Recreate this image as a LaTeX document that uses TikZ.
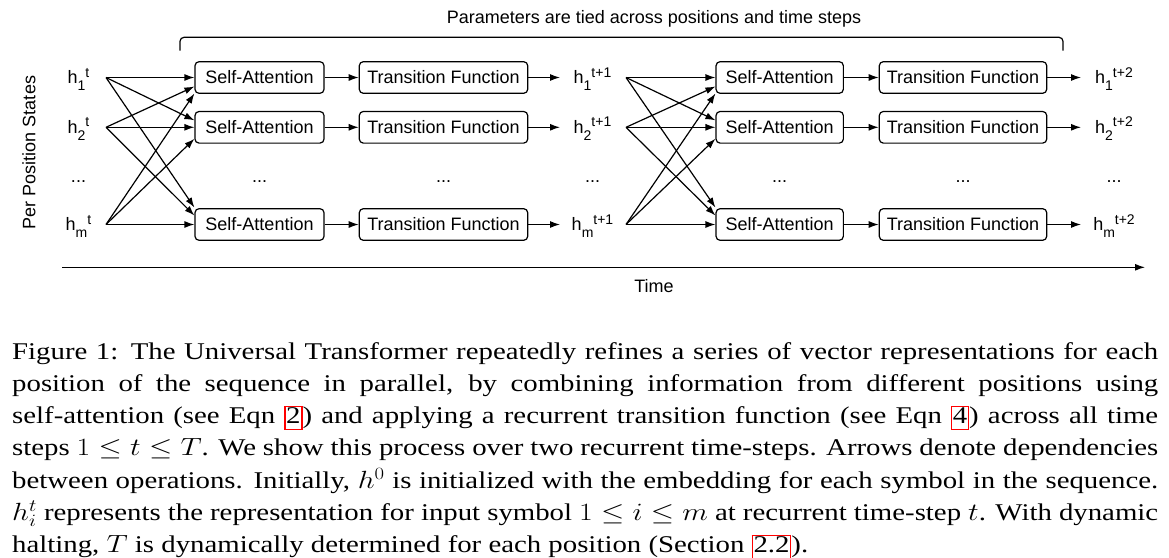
\documentclass[tikz,border=0pt]{standalone}
\usepackage{fontspec}
\usepackage{graphicx}
\setmainfont{Liberation Serif}
\newfontfamily\diagfont{Liberation Sans}
\usetikzlibrary{arrows.meta}

\definecolor{linkred}{rgb}{1,0,0}

% state label: h with index and step set side by side
\newcommand{\hlab}[2]{h\raisebox{-6.5pt}{\fontsize{14}{14}\selectfont #1}\raisebox{6.8pt}{\fontsize{14}{14}\selectfont #2}}
% red frame of a reference link
\newcommand{\eqlink}[1]{{\fboxsep=0.6pt\fboxrule=1pt\fcolorbox{linkred}{white}{\vphantom{Eqp}#1}}}

\begin{document}
\begin{tikzpicture}[x=1pt, y=-1pt,
  font=\diagfont\fontsize{18}{21}\selectfont,
  box/.style={draw, rounded corners=4pt, line width=1.2pt, minimum height=31.6pt, inner sep=0pt},
  arr/.style={line width=1.2pt, -{Latex[length=10pt,width=7pt]}},
  hst/.style={anchor=base, inner sep=0pt}]

\useasboundingbox (0,0) rectangle (1169,557);

% Coordinates of the bracket and the time axis
\coordinate (brL) at (180,50.7);
\coordinate (brR) at (1063,50.7);
\coordinate (tStart) at (62,267.3);
\coordinate (tEnd) at (1145,267.3);

% Title and axes
\node[anchor=base, inner sep=0pt] (title) at (654,23) {Parameters are tied across positions and time steps};
\draw[line width=1.2pt, rounded corners=4pt] (brL) -- (180,37.3) -- (1063,37.3) -- (brR);
\node[rotate=90, inner sep=0pt] (perpos) at (29,152.5) {Per Position States};
\draw[arr] (tStart) -- (tEnd);
\node[anchor=base, inner sep=0pt] (time) at (654,292) {Time};

% Rows of the two steps
\foreach \i/\y in {1/77.5, 2/127.3, m/224.5}
{
    % first step
    \node[hst] (h\i t) at (78.5,{\y+6.3}) {\hlab{\i}{t}};
    \coordinate (h\i t-out) at (106,\y);
    \node[box, minimum width=129pt] (sa\i) at (259.5,\y) {Self-Attention};
    \node[box, minimum width=168.4pt] (tf\i) at (443.5,\y) {Transition Function};
    \coordinate (h\i u-in) at (560,\y);
    \node[hst] (h\i u) at (592.5,{\y+6.3}) {\hlab{\i}{t+1}};
    \coordinate (h\i u-out) at (626,\y);
    % second step
    \node[box, minimum width=127.3pt] (sb\i) at (779.7,\y) {Self-Attention};
    \node[box, minimum width=167.4pt] (tg\i) at (963,\y) {Transition Function};
    \coordinate (h\i v-in) at (1081,\y);
    \node[hst] (h\i v) at (1114,{\y+6.3}) {\hlab{\i}{t+2}};
    \draw[arr] (sa\i) -- (tf\i);
    \draw[arr] (tf\i) -- (h\i u-in);
    \draw[arr] (sb\i) -- (tg\i);
    \draw[arr] (tg\i) -- (h\i v-in);
}

% Every position feeds every self-attention
\foreach \s/\d/\o in {1/1/0, 2/1/-9, m/1/-16, 1/2/7, 2/2/0, m/2/-11.5, 1/m/17, 2/m/9, m/m/0}
{
    \draw[arr] (h\s t-out) -- ([yshift=\o pt]sa\d.west);
    \draw[arr] (h\s u-out) -- ([yshift=\o pt]sb\d.west);
}

% Dots between the rows
\foreach \x [count=\n] in {78.5, 259.5, 443.5, 592.5, 779.7, 963, 1114}
{
    \node[anchor=base, inner sep=0pt] (dots\n) at (\x,182) {...};
}

% Caption
\node[anchor=base west, inner sep=0pt] (caption) at (12,359.3) {\scalebox{1.2}[1]{\parbox[t]{955pt}{\rmfamily\fontsize{24}{32.2}\selectfont
Figure 1: The Universal Transformer repeatedly refines a series of vector representations for each\linebreak
position of the sequence in parallel, by combining information from different positions using\linebreak
self-attention (see Eqn~\eqlink{2}) and applying a recurrent transition function (see Eqn~\eqlink{4}) across all time\linebreak
steps $1 \le t \le T$. We show this process over two recurrent time-steps. Arrows denote dependencies\linebreak
between operations. Initially, $h^0$ is initialized with the embedding for each symbol in the sequence.\linebreak
$h^t_i$ represents the representation for input symbol $1 \le i \le m$ at recurrent time-step~$t$. With dynamic\linebreak
halting, $T$ is dynamically determined for each position (Section~\eqlink{2.2}).}}};

\end{tikzpicture}
\end{document}
